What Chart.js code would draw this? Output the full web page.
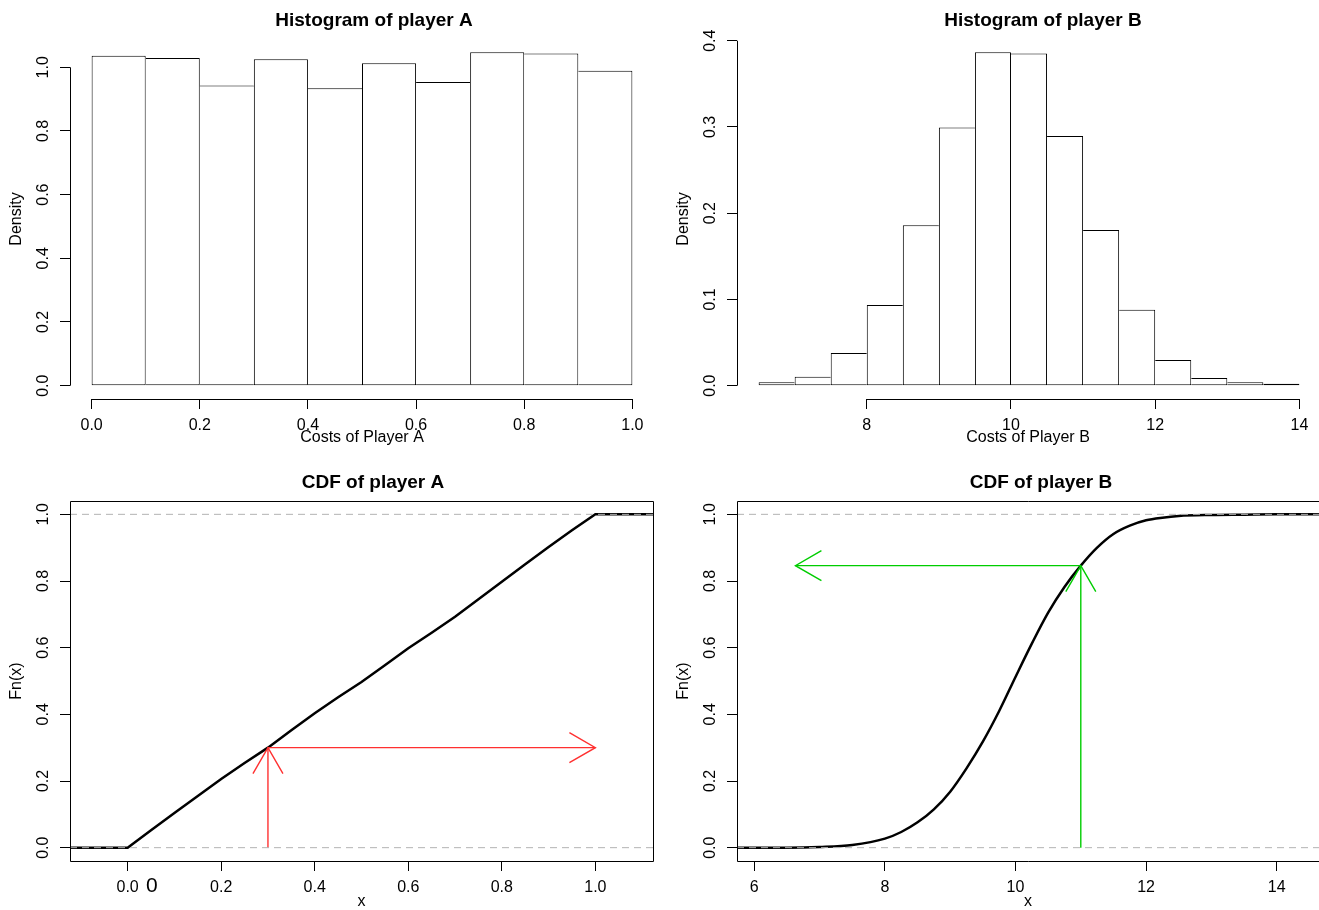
<!DOCTYPE html>
<html>
<head>
<meta charset="utf-8">
<script src="https://cdn.jsdelivr.net/npm/chart.js@4.4.1/dist/chart.umd.min.js"></script>
<style>
  html, body { margin: 0; padding: 0; background: #fff; }
  #wrap { position: relative; width: 1319px; height: 910px; overflow: hidden; }
  canvas { position: absolute; }
</style>
</head>
<body>
<div id="wrap">
  <canvas id="histA" width="660" height="455" style="left:0;top:0"></canvas>
  <canvas id="histB" width="659" height="455" style="left:660px;top:0"></canvas>
  <canvas id="cdfA" width="660" height="455" style="left:0;top:455px"></canvas>
  <canvas id="cdfB" width="659" height="455" style="left:660px;top:455px"></canvas>
</div>
<script>
// ---- data ----
const histAMids = [0.05, 0.15, 0.25, 0.35, 0.45, 0.55, 0.65, 0.75, 0.85, 0.95];
const histADensity = [1.036, 1.029, 0.943, 1.025, 0.934, 1.013, 0.954, 1.047, 1.043, 0.989];

const histBMids = [6.75, 7.25, 7.75, 8.25, 8.75, 9.25, 9.75, 10.25, 10.75, 11.25, 11.75, 12.25, 12.75, 13.25, 13.75];
const histBDensity = [0.0038, 0.0104, 0.0379, 0.0935, 0.186, 0.2995, 0.3865, 0.3853, 0.2895, 0.1805, 0.0881, 0.0298, 0.0089, 0.0038, 0.0008];

const cdfAX = [-0.1232, 0, 0.05, 0.1, 0.15, 0.2, 0.25, 0.3, 0.35, 0.4, 0.45, 0.5, 0.55, 0.6, 0.65, 0.7, 0.75, 0.8, 0.85, 0.9, 0.95, 1.0, 1.1232];
const cdfAY = [0, 0, 0.052, 0.104, 0.155, 0.206, 0.254, 0.3, 0.352, 0.403, 0.451, 0.497, 0.547, 0.598, 0.645, 0.693, 0.745, 0.798, 0.85, 0.902, 0.952, 1.0, 1.0];

const cdfBX = [5.735, 6.5, 7, 7.5, 8, 8.25, 8.5, 8.75, 9, 9.25, 9.5, 9.75, 10, 10.25, 10.5, 10.75, 11, 11.25, 11.5, 11.75, 12, 12.25, 12.5, 13, 13.5, 14, 14.648];
const cdfBY = [0, 0, 0.002, 0.008, 0.027, 0.047, 0.076, 0.115, 0.168, 0.238, 0.318, 0.41, 0.512, 0.612, 0.705, 0.782, 0.846, 0.9, 0.941, 0.966, 0.982, 0.99, 0.995, 0.998, 0.999, 1.0, 1.0];

// arrows: [x0, y0, x1, y1], head at (x1, y1)
const arrowsA = [[0.3, 0, 0.3, 0.3], [0.3, 0.3, 1.0, 0.3]];
const arrowsB = [[11, 0, 11, 0.846], [11, 0.846, 6.63, 0.846]];

const histATicksX = [0, 0.2, 0.4, 0.6, 0.8, 1.0];
const histATicksY = [0, 0.2, 0.4, 0.6, 0.8, 1.0];
const histBTicksX = [8, 10, 12, 14];
const histBTicksY = [0, 0.1, 0.2, 0.3, 0.4];
const cdfATicksX = [0, 0.2, 0.4, 0.6, 0.8, 1.0];
const cdfBTicksX = [6, 8, 10, 12, 14];
const cdfTicksY = [0, 0.2, 0.4, 0.6, 0.8, 1.0];

const FONT = "'Liberation Sans', Arial, Helvetica, sans-serif";
Chart.defaults.font.family = FONT;
Chart.defaults.color = '#000';

const oneDec = v => Number(v).toFixed(1);
const plain = v => String(v);

// R style axis: ticks outward, no grid, fixed thickness
function rAxis(horizontal, min, max, ticks, fmt, size, title, titlePad) {
  return {
    type: 'linear', min: min, max: max, offset: false,
    afterBuildTicks: s => { s.ticks = ticks.map(v => ({ value: v })); },
    afterFit: s => { if (horizontal) s.height = size; else s.width = size; },
    border: { display: false },
    grid: { offset: false, drawOnChartArea: false, drawTicks: true, tickLength: 10, color: '#000', tickColor: '#000', tickWidth: 1 },
    ticks: horizontal
      ? { autoSkip: false, font: { size: 16 }, padding: 7, callback: fmt, maxRotation: 0 }
      : { autoSkip: false, font: { size: 16 }, padding: 5, callback: fmt, minRotation: 90, maxRotation: 90, crossAlign: 'center' },
    title: { display: true, text: title, color: '#000', font: { size: 16 }, padding: titlePad }
  };
}

// bar edges: a shared edge is drawn once, by the taller bar
function edgeWidths(h) {
  return ctx => {
    const i = ctx.dataIndex, n = h.length;
    return {
      top: 1, bottom: 1,
      left: (i === 0 || h[i] >= h[i - 1]) ? 1 : 0,
      right: (i === n - 1 || h[i] > h[i + 1]) ? 1 : 0
    };
  };
}

const px = v => Math.round(v) + 0.5;

const rFrame = {
  id: 'rFrame',
  afterDatasetsDraw(chart, args, opts) {
    const ctx = chart.ctx, a = chart.chartArea;
    const xs = chart.scales.x, ys = chart.scales.y;
    ctx.save();
    ctx.strokeStyle = '#000';
    ctx.lineWidth = 1;
    ctx.beginPath();
    if (opts.box) {
      const r = opts.openRight ? a.right + 10 : a.right;
      ctx.rect(px(a.left), px(a.top), Math.round(r - a.left), Math.round(a.bottom - a.top));
    } else {
      const xt = xs.ticks, yt = ys.ticks;
      ctx.moveTo(xs.getPixelForValue(xt[0].value), px(a.bottom));
      ctx.lineTo(xs.getPixelForValue(xt[xt.length - 1].value), px(a.bottom));
      ctx.moveTo(px(a.left), ys.getPixelForValue(yt[0].value));
      ctx.lineTo(px(a.left), ys.getPixelForValue(yt[yt.length - 1].value));
    }
    ctx.stroke();

    // open arrow heads, 30 px wings at 30 degrees
    (opts.arrows || []).forEach(ar => {
      const x0 = xs.getPixelForValue(ar[0]), y0 = ys.getPixelForValue(ar[1]);
      const x1 = xs.getPixelForValue(ar[2]), y1 = ys.getPixelForValue(ar[3]);
      const ang = Math.atan2(y1 - y0, x1 - x0);
      ctx.strokeStyle = opts.arrowColor;
      ctx.lineWidth = 1.4;
      ctx.beginPath();
      ctx.moveTo(x1 - 30 * Math.cos(ang - Math.PI / 6), y1 - 30 * Math.sin(ang - Math.PI / 6));
      ctx.lineTo(x1, y1);
      ctx.lineTo(x1 - 30 * Math.cos(ang + Math.PI / 6), y1 - 30 * Math.sin(ang + Math.PI / 6));
      ctx.stroke();
    });

    ctx.fillStyle = '#000';
    ctx.font = 'bold 19px ' + FONT;
    ctx.textAlign = 'center';
    ctx.textBaseline = 'alphabetic';
    ctx.fillText(opts.title, opts.titleX, a.top - 13);

    (opts.notes || []).forEach(n => {
      ctx.font = n.size + 'px ' + FONT;
      ctx.textBaseline = 'middle';
      ctx.fillText(n.text, xs.getPixelForValue(n.x), a.bottom + n.dy);
    });
    ctx.restore();
  }
};

function baseOptions(pad, frame, xAxis, yAxis) {
  return {
    responsive: false, animation: false, devicePixelRatio: 1,
    layout: { padding: { top: pad.top, right: pad.right, left: 0, bottom: 0 } },
    plugins: { legend: { display: false }, tooltip: { enabled: false }, rFrame: frame },
    scales: { x: xAxis, y: yAxis }
  };
}

function barSet(mids, dens) {
  return {
    type: 'bar',
    data: mids.map((m, i) => ({ x: m, y: dens[i] })),
    backgroundColor: '#fff', borderColor: '#000',
    borderWidth: edgeWidths(dens), borderSkipped: false,
    barPercentage: 1, categoryPercentage: 1, inflateAmount: 0, minBarLength: 2
  };
}

function lineSet(xs, ys, color, width, dash, order) {
  return {
    type: 'line',
    data: xs.map((x, i) => ({ x: x, y: ys[i] })),
    borderColor: color, borderWidth: width, borderDash: dash || [],
    pointRadius: 0, fill: false, tension: 0, order: order
  };
}

// Histogram of player A
new Chart(document.getElementById('histA'), {
  type: 'bar',
  data: { datasets: [barSet(histAMids, histADensity)] },
  options: baseOptions({ top: 39, right: 6 },
    { title: 'Histogram of player A', titleX: 374 },
    rAxis(true, -0.04, 1.04, histATicksX, oneDec, 56, 'Costs of Player A', { top: 0, bottom: 8 }),
    rAxis(false, -0.0419, 1.0889, histATicksY, oneDec, 70, 'Density', { top: 7, bottom: 0 })),
  plugins: [rFrame]
});

// Histogram of player B
new Chart(document.getElementById('histB'), {
  type: 'bar',
  data: { datasets: [barSet(histBMids, histBDensity)] },
  options: baseOptions({ top: 39, right: 0 },
    { title: 'Histogram of player B', titleX: 383 },
    rAxis(true, 6.2, 14.272, histBTicksX, plain, 56, 'Costs of Player B', { top: 0, bottom: 8 }),
    rAxis(false, -0.0155, 0.402, histBTicksY, oneDec, 77, 'Density', { top: 14, bottom: 0 })),
  plugins: [rFrame]
});

// CDF of player A
const cdfAExt = [cdfAX[0], cdfAX[cdfAX.length - 1]];
new Chart(document.getElementById('cdfA'), {
  type: 'line',
  data: { datasets: [
    lineSet(cdfAExt, [0, 0], '#b3b3b3', 1, [7, 5], 0),
    lineSet(cdfAExt, [1, 1], '#b3b3b3', 1, [7, 5], 0),
    lineSet([arrowsA[0][0], arrowsA[0][2]], [arrowsA[0][1], arrowsA[0][3]], '#ff3030', 1.4, null, 1),
    lineSet([arrowsA[1][0], arrowsA[1][2]], [arrowsA[1][1], arrowsA[1][3]], '#ff3030', 1.4, null, 1),
    lineSet(cdfAX, cdfAY, '#000', 2.5, null, 2)
  ] },
  options: baseOptions({ top: 46, right: 7 },
    { title: 'CDF of player A', titleX: 373, box: true, arrows: arrowsA, arrowColor: '#ff3030',
      notes: [{ text: '0', x: 0.052, dy: 25, size: 21 }] },
    rAxis(true, -0.1232, 1.1232, cdfATicksX, oneDec, 49, 'x', { top: 0, bottom: -1 }),
    rAxis(false, -0.04, 1.04, cdfTicksY, oneDec, 70, 'Fn(x)', { top: 7, bottom: 0 })),
  plugins: [rFrame]
});

// CDF of player B
const cdfBExt = [cdfBX[0], cdfBX[cdfBX.length - 1]];
new Chart(document.getElementById('cdfB'), {
  type: 'line',
  data: { datasets: [
    lineSet(cdfBExt, [0, 0], '#b3b3b3', 1, [7, 5], 0),
    lineSet(cdfBExt, [1, 1], '#b3b3b3', 1, [7, 5], 0),
    lineSet([arrowsB[0][0], arrowsB[0][2]], [arrowsB[0][1], arrowsB[0][3]], '#00cd00', 1.4, null, 1),
    lineSet([arrowsB[1][0], arrowsB[1][2]], [arrowsB[1][1], arrowsB[1][3]], '#00cd00', 1.4, null, 1),
    Object.assign(lineSet(cdfBX, cdfBY, '#000', 2.5, null, 2), { cubicInterpolationMode: 'monotone' })
  ] },
  options: baseOptions({ top: 46, right: 0 },
    { title: 'CDF of player B', titleX: 381, box: true, openRight: true, arrows: arrowsB, arrowColor: '#00cd00' },
    rAxis(true, 5.735, 14.648, cdfBTicksX, plain, 49, 'x', { top: 0, bottom: -1 }),
    rAxis(false, -0.04, 1.04, cdfTicksY, oneDec, 77, 'Fn(x)', { top: 14, bottom: 0 })),
  plugins: [rFrame]
});
</script>
</body>
</html>
